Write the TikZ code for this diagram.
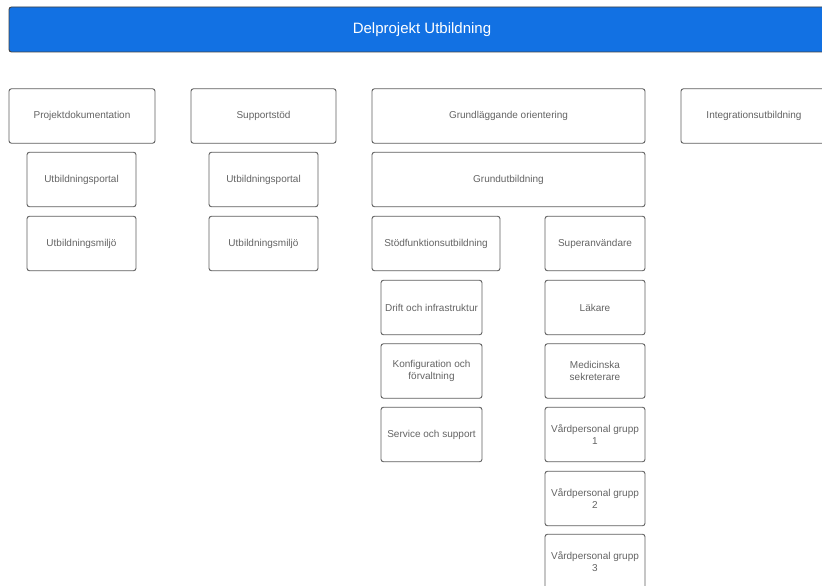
\documentclass[tikz,border=0pt]{standalone}
\usepackage{fontspec}
\setmainfont{Liberation Sans}
\definecolor{hdrblue}{HTML}{1271E3}
\definecolor{boxline}{HTML}{5E5E5E}
\definecolor{boxtext}{HTML}{646464}
\begin{document}
\begin{tikzpicture}[x=1pt,y=-1pt,
  box/.style={draw=boxline, line width=0.9pt, rounded corners=2.5pt, fill=white,
    text=boxtext, align=center, inner sep=0pt, minimum height=54.5pt,
    font=\fontsize{10}{12.7}\selectfont},
  hdr/.style={draw=boxline!70!black, line width=0.9pt, rounded corners=2.5pt, fill=hdrblue,
    text=white, inner sep=0pt, font=\fontsize{15}{18}\selectfont}]
\useasboundingbox (0,0) rectangle (822,586);
\clip (0,0) rectangle (822,586);
\fill[white] (0,0) rectangle (822,586);
% header
\node[hdr, minimum width=826pt, minimum height=45pt] (hd) at (422,29.5) {Delprojekt Utbildning};
% row 1
\node[box, minimum width=146pt] (pd) at (82,116) {Projektdokumentation};
\node[box, minimum width=145pt] (ss) at (263.5,116) {Supportstöd};
\node[box, minimum width=273pt] (go) at (508.5,116) {Grundläggande orientering};
\node[box, minimum width=146pt] (iu) at (754,116) {Integrationsutbildning};
% row 2
\node[box, minimum width=109pt] (up1) at (81.5,179.5) {Utbildningsportal};
\node[box, minimum width=109pt] (up2) at (263.5,179.5) {Utbildningsportal};
\node[box, minimum width=273pt] (gu) at (508.5,179.5) {Grundutbildning};
% row 3
\node[box, minimum width=109pt] (um1) at (81.5,243.5) {Utbildningsmiljö};
\node[box, minimum width=109pt] (um2) at (263.5,243.5) {Utbildningsmiljö};
\node[box, minimum width=128pt] (sf) at (436,243.5) {Stödfunktionsutbildning};
\node[box, minimum width=100pt] (su) at (595,243.5) {Superanvändare};
% left sub column
\node[box, minimum width=101pt] (dr) at (431.5,307.5) {Drift och infrastruktur};
\node[box, minimum width=101pt] (kf) at (431.5,371) {Konfiguration och\\förvaltning};
\node[box, minimum width=101pt] (sv) at (431.5,434.5) {Service och support};
% right sub column
\node[box, minimum width=100pt] (lk) at (595,307.5) {Läkare};
\node[box, minimum width=100pt] (ms) at (595,371) {Medicinska\\sekreterare};
\node[box, minimum width=100pt] (v1) at (595,434.5) {Vårdpersonal grupp\\1};
\node[box, minimum width=100pt] (v2) at (595,498.5) {Vårdpersonal grupp\\2};
\node[box, minimum width=100pt] (v3) at (595,561.5) {Vårdpersonal grupp\\3};
\end{tikzpicture}
\end{document}
